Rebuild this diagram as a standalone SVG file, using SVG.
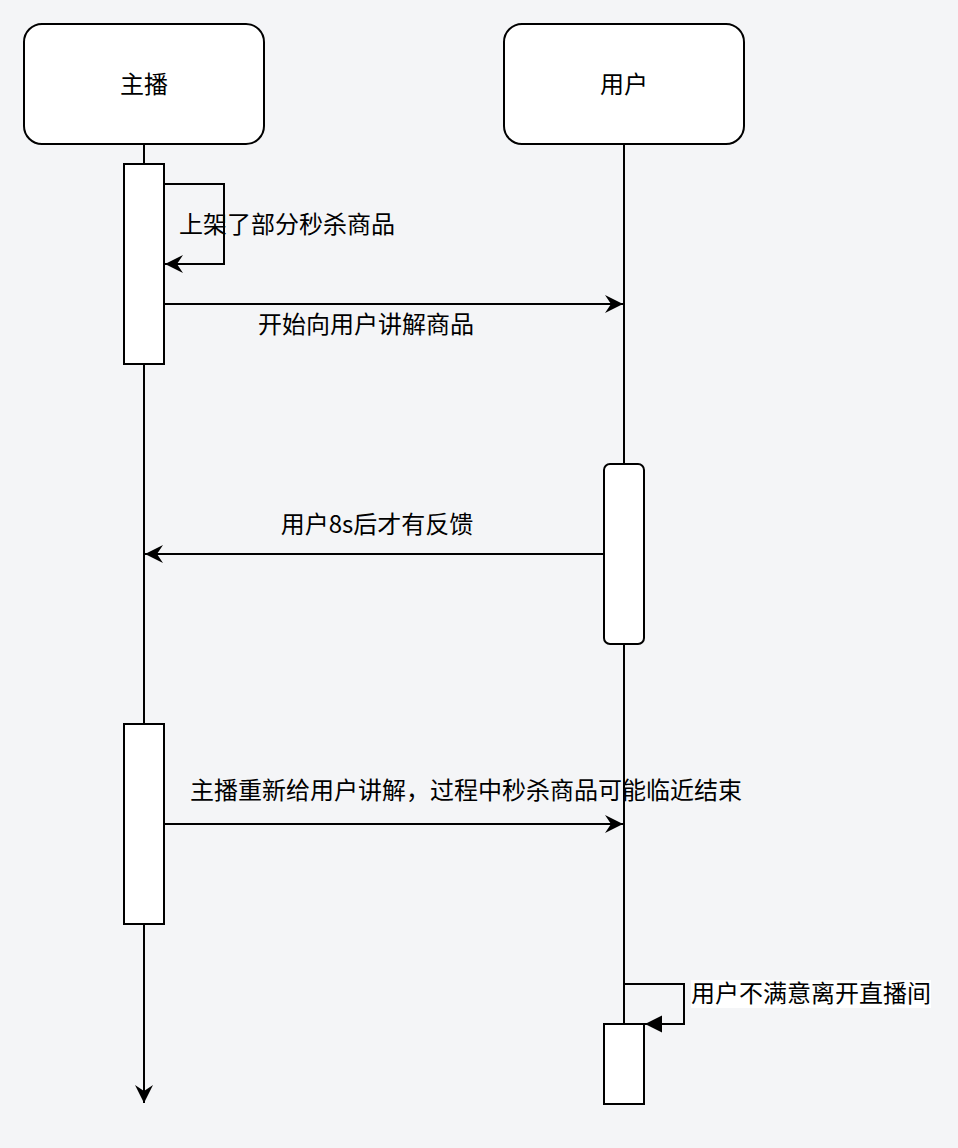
<svg xmlns="http://www.w3.org/2000/svg" width="958" height="1148" viewBox="0 0 958 1148">
<style>
.bg{fill:#f4f5f7}
.box{fill:#ffffff;stroke:#000000;stroke-width:2}
.ln{fill:none;stroke:#000000;stroke-width:2}
.t{font-family:"Noto Sans CJK SC","Liberation Sans",sans-serif;font-size:24px;fill:#000000;dominant-baseline:central}
.c{text-anchor:middle}
</style>
<defs>
<marker id="classic" markerUnits="userSpaceOnUse" markerWidth="20" markerHeight="20" viewBox="-18 -10 20 20" refX="0" refY="0" orient="auto" overflow="visible">
<path d="M0,0 L-18,-9 L-12,0 L-18,9 Z" fill="#000000"/>
</marker>
<marker id="block" markerUnits="userSpaceOnUse" markerWidth="20" markerHeight="20" viewBox="-18 -10 20 20" refX="0" refY="0" orient="auto" overflow="visible">
<path d="M0,0 L-17,-8.5 L-17,8.5 Z" fill="#000000"/>
</marker>
</defs>
<rect class="bg" x="0" y="0" width="958" height="1148"/>
<g id="connectors">
<path class="ln" d="M164,184 H224 V264 H165" marker-end="url(#classic)"/>
<text class="t" x="179" y="222">上架了部分秒杀商品</text>
<path class="ln" d="M164,304 H623" marker-end="url(#classic)"/>
<text class="t c" x="366" y="322">开始向用户讲解商品</text>
<path class="ln" d="M604,554 H145" marker-end="url(#classic)"/>
<text class="t c" x="377" y="522">用户8s后才有反馈</text>
<path class="ln" d="M164,824 H623" marker-end="url(#classic)"/>
<text class="t c" x="466" y="788">主播重新给用户讲解，过程中秒杀商品可能临近结束</text>
<path class="ln" d="M624,984 H684 V1024 H645" marker-end="url(#block)"/>
<rect x="691" y="980" width="240" height="28" fill="#ffffff"/>
<text class="t" x="691" y="991">用户不满意离开直播间</text>
</g>
<g id="anchor">
<path class="ln" d="M144,144 V1103" marker-end="url(#classic)"/>
<rect class="box" x="24" y="24" width="240" height="120" rx="18" ry="18"/>
<text class="t c" x="144" y="82">主播</text>
<rect class="box" x="124" y="164" width="40" height="200"/>
<rect class="box" x="124" y="724" width="40" height="200"/>
</g>
<g id="user">
<path class="ln" d="M624,144 V1024"/>
<rect class="box" x="504" y="24" width="240" height="120" rx="18" ry="18"/>
<text class="t c" x="624" y="82">用户</text>
<rect class="box" x="604" y="464" width="40" height="180" rx="6" ry="6"/>
<rect class="box" x="604" y="1024" width="40" height="80"/>
</g>
</svg>
